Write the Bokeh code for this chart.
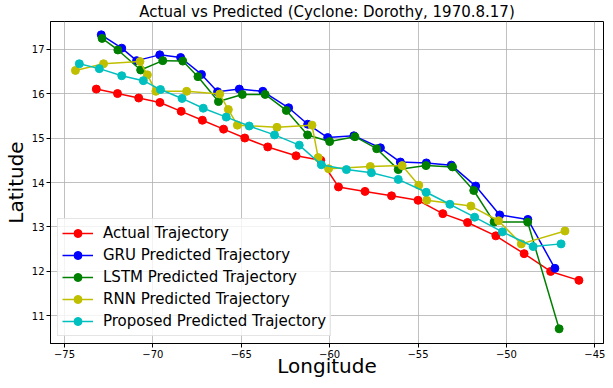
from bokeh.plotting import figure
from bokeh.models import Range1d, FixedTicker, Legend, LegendItem
from bokeh.embed import file_html
from bokeh.resources import INLINE

title = "Actual vs Predicted (Cyclone: Dorothy, 1970.8.17)"

actual_lon = [-73.2, -72.0, -70.8, -69.6, -68.4, -67.2, -66.0, -64.8, -63.5, -61.9, -60.5,
              -59.5, -58.0, -56.5, -55.0, -53.6, -52.2, -50.6, -49.0, -47.5, -45.9]
actual_lat = [16.1, 16.0, 15.9, 15.8, 15.6, 15.4, 15.2, 15.0, 14.8, 14.6, 14.5,
              13.9, 13.8, 13.7, 13.6, 13.3, 13.1, 12.8, 12.4, 12.0, 11.8]

gru_lon = [-72.92, -71.76, -70.92, -69.61, -68.43, -67.25, -66.34, -65.11, -63.78, -62.32, -61.24,
           -60.11, -58.63, -57.13, -56.00, -54.53, -53.12, -51.74, -50.38, -48.79, -47.26]
gru_lat = [17.32, 17.02, 16.74, 16.87, 16.81, 16.43, 16.04, 16.10, 16.05, 15.68, 15.31,
           15.01, 15.05, 14.78, 14.46, 14.44, 14.39, 13.92, 13.27, 13.17, 12.07]

lstm_lon = [-72.87, -71.98, -70.69, -69.44, -68.31, -67.45, -66.29, -64.94, -63.65, -62.45, -61.25,
            -60.00, -58.57, -57.34, -56.12, -54.55, -53.05, -51.85, -50.70, -48.80, -47.02]
lstm_lat = [17.24, 16.98, 16.53, 16.74, 16.73, 16.38, 15.82, 15.98, 15.98, 15.62, 15.07,
            14.92, 15.03, 14.76, 14.29, 14.38, 14.35, 13.82, 13.11, 13.11, 10.71]

rnn_lon = [-74.38, -72.79, -70.73, -70.31, -69.83, -68.09, -66.22, -65.73, -65.22, -62.98, -61.00,
           -60.65, -60.06, -57.70, -55.90, -54.96, -54.51, -52.01, -50.45, -49.16, -46.69]
rnn_lat = [16.52, 16.67, 16.72, 16.42, 16.05, 16.05, 15.99, 15.64, 15.29, 15.24, 15.29,
           14.56, 14.31, 14.36, 14.38, 13.94, 13.60, 13.47, 13.14, 12.62, 12.91]

prop_lon = [-74.16, -73.03, -71.76, -70.54, -69.57, -68.35, -67.15, -65.85, -64.55, -63.12, -61.72,
            -60.47, -59.05, -57.64, -56.12, -54.54, -53.20, -51.80, -50.23, -48.49, -46.91]
prop_lat = [16.67, 16.56, 16.40, 16.29, 16.09, 15.89, 15.67, 15.47, 15.27, 15.07, 14.84,
            14.40, 14.29, 14.22, 14.07, 13.78, 13.51, 13.22, 12.89, 12.56, 12.62]

series_names = ["Actual Trajectory", "GRU Predicted Trajectory", "LSTM Predicted Trajectory",
                "RNN Predicted Trajectory", "Proposed Predicted Trajectory"]
series_colors = ["#ff0000", "#0000ff", "#008000", "#bfbf00", "#00bfbf"]

x_ticks = [-75, -70, -65, -60, -55, -50, -45]
x_tick_labels = ["\u221275", "\u221270", "\u221265", "\u221260", "\u221255", "\u221250", "\u221245"]
y_ticks = [11, 12, 13, 14, 15, 16, 17]
y_tick_labels = ["11", "12", "13", "14", "15", "16", "17"]

FONT = "DejaVu Sans"

p = figure(width=605, height=380, output_backend="svg", toolbar_location=None,
           x_range=Range1d(-75.79, -44.51), y_range=Range1d(10.38, 17.62),
           title=title, min_border_right=2, min_border_top=0, min_border_bottom=0,
           min_border_left=0)
p.title.text_font = FONT
p.title.text_font_size = "15px"
p.title.text_font_style = "normal"
p.title.text_color = "black"
p.title.align = "center"
p.title.standoff = 1

p.outline_line_color = "black"
p.outline_line_width = 1
p.outline_line_alpha = 1

for ax, ticks, labels in ((p.xaxis[0], x_ticks, x_tick_labels), (p.yaxis[0], y_ticks, y_tick_labels)):
    ax.ticker = FixedTicker(ticks=ticks)
    ax.major_label_overrides = dict(zip(ticks, labels))
    ax.major_label_text_font = FONT
    ax.major_label_text_font_size = "10px"
    ax.major_label_text_color = "black"
    ax.axis_label_text_font = FONT
    ax.axis_label_text_font_size = "20px"
    ax.axis_label_text_font_style = "normal"
    ax.axis_label_text_color = "black"
    ax.axis_line_color = "black"
    ax.major_tick_line_color = "black"
    ax.major_tick_out = 4
    ax.major_tick_in = 0
    ax.minor_tick_line_color = None
    ax.major_label_standoff = 2

p.xaxis[0].axis_label_standoff = -7
p.yaxis[0].axis_label_standoff = 1
p.xaxis.axis_label = "Longitude"
p.yaxis.axis_label = "Latitude"

p.grid.grid_line_color = "#b0b0b0"
p.grid.grid_line_width = 0.8

lons = [actual_lon, gru_lon, lstm_lon, rnn_lon, prop_lon]
lats = [actual_lat, gru_lat, lstm_lat, rnn_lat, prop_lat]
items = []
for name, color, xs, ys in zip(series_names, series_colors, lons, lats):
    r1 = p.line(xs, ys, line_color=color, line_width=1.5)
    r2 = p.scatter(xs, ys, marker="circle", size=8, fill_color=color, line_color=color)
    items.append(LegendItem(label=name, renderers=[r1, r2]))

legend = Legend(items=items, location="bottom_left")
legend.label_text_font = FONT
legend.label_text_font_size = "15px"
legend.label_text_color = "black"
legend.glyph_width = 31
legend.glyph_height = 20
legend.label_height = 20
legend.spacing = 2
legend.padding = 4
legend.margin = 7
legend.label_standoff = 10
legend.border_line_color = "#cccccc"
legend.border_line_width = 1
legend.background_fill_color = "white"
legend.background_fill_alpha = 0.8
p.add_layout(legend, "center")

open("out.html", "w").write(file_html(p, INLINE))
